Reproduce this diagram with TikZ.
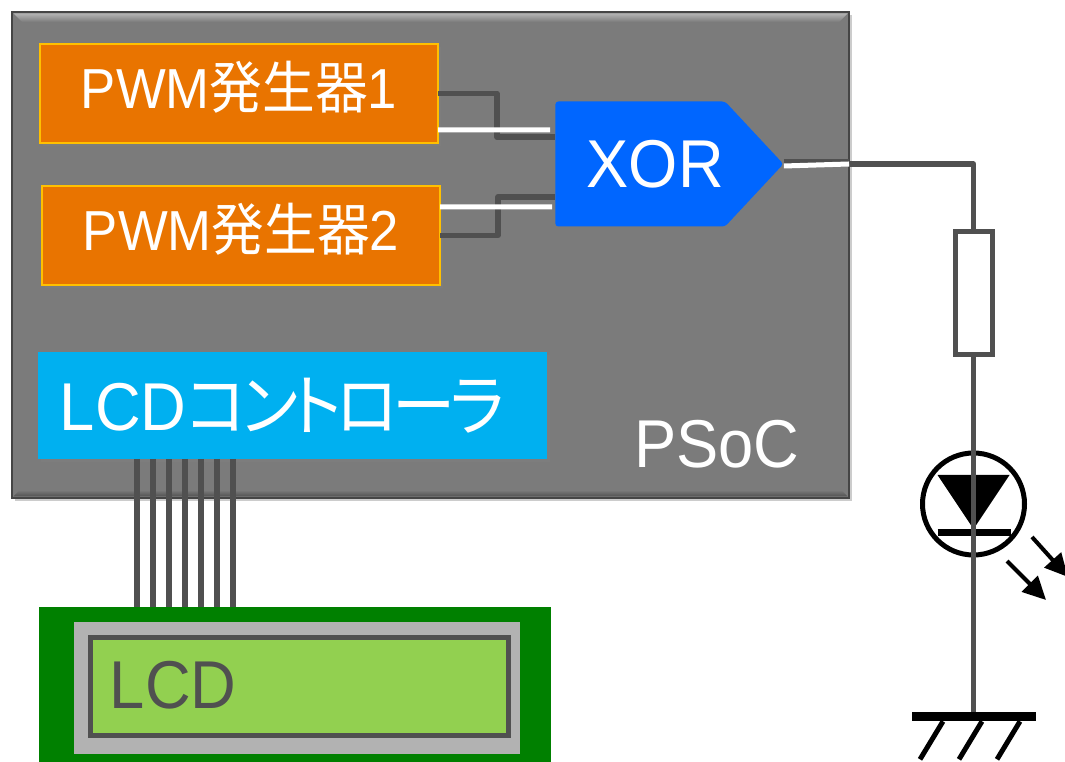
\documentclass[tikz,border=0pt]{standalone}
\usepackage{fontspec}
\usepackage{xcolor}
\usepackage{graphicx}
\setmainfont{Liberation Sans}
\newfontfamily\cjk[RawFeature=+palt]{Noto Sans CJK JP}
\usetikzlibrary{arrows.meta,calc,shadows,shapes.symbols}
\definecolor{panelgray}{HTML}{7B7B7B}
\definecolor{edge}{HTML}{454545}
\definecolor{wiregray}{HTML}{505050}
\definecolor{pwmfill}{HTML}{E97400}
\definecolor{pwmline}{HTML}{FFC000}
\definecolor{xorblue}{HTML}{0066FF}
\definecolor{ctlblue}{HTML}{00B0F0}
\definecolor{boardgreen}{HTML}{008000}
\definecolor{framegray}{HTML}{B2B2B2}
\definecolor{screengreen}{HTML}{92D050}
\newcommand{\jp}[1]{{\cjk #1}}
\newcommand{\tall}[1]{\scalebox{1}[1.07]{#1}}
\tikzset{
  softshadow/.style={drop shadow={opacity=0.4, shadow xshift=0.05cm, shadow yshift=-0.07cm}},
  wire/.style={draw=wiregray, line width=0.11cm, line join=round},
  signalwire/.style={draw=white, line width=0.1cm},
  block/.style={anchor=south west, inner sep=0pt, outer sep=0pt, text=white},
  pwmblock/.style={block, draw=pwmline, fill=pwmfill, line width=0.03cm, softshadow,
                   minimum width=7.96cm, minimum height=1.98cm, text depth=0.36cm,
                   font=\fontsize{30}{32}\selectfont},
  biglabel/.style={font=\fontsize{36}{38}\selectfont, text=white},
  symbolline/.style={draw=black, line width=0.1cm},
  lightarrow/.style={-{Triangle[length=4.6mm,width=4.4mm]}, draw=black, line width=0.08cm},
}
\begin{document}
\begin{tikzpicture}[x=1cm,y=1cm]
\useasboundingbox (0,0) rectangle (21.3,15.24);

% PSoC -------------------------------------------------------------------------
\node[block, draw=edge, fill=panelgray, line width=0.05cm, softshadow,
      minimum width=16.74cm, minimum height=9.72cm] (psoc) at (0.24,5.28) {};
% bevel along the top and bottom edge
\shade[top color=black!30, bottom color=panelgray]
  ([shift={(0.03,-0.03)}]psoc.north west) -- ([shift={(-0.03,-0.03)}]psoc.north east)
  -- ([shift={(-0.2,-0.2)}]psoc.north east) -- ([shift={(0.2,-0.2)}]psoc.north west) -- cycle;
\shade[top color=panelgray, bottom color=black!68]
  ([shift={(0.03,0.03)}]psoc.south west) -- ([shift={(-0.03,0.03)}]psoc.south east)
  -- ([shift={(-0.16,0.16)}]psoc.south east) -- ([shift={(0.16,0.16)}]psoc.south west) -- cycle;
\node[biglabel] (psoclabel) at (14.34,6.36) {\tall{PSoC}};

\node[pwmblock] (pwmone) at (0.80,12.38) {\tall{PWM\jp{発生器}1}};
\node[pwmblock] (pwmtwo) at (0.84,9.54) {\tall{PWM\jp{発生器}2}};

\node[shape=signal, signal to=east, signal pointer angle=94, anchor=west, fill=xorblue,
      rounded corners=0.06cm, inner sep=0pt, minimum width=4.56cm, minimum height=2.5cm,
      biglabel] (xor) at (11.10,11.96) {\hspace{0.6cm}\tall{XOR}};

\node[block, fill=ctlblue, softshadow, minimum height=2.14cm, text width=10.18cm,
      font=\fontsize{36}{38}\selectfont] (lcdctl) at (0.76,6.06)
  {\hspace{0.44cm}\tall{LCD\jp{\addfontfeature{LetterSpace=-8}コントローラ}}};

% PWM to XOR
\draw[wire] (pwmone.east) -- ++(1.18,0) |- ([yshift=-0.72cm]xor.west |- xor.north);
\draw[signalwire] ([yshift=-0.73cm]pwmone.east) -- ([xshift=-0.1cm,yshift=0.68cm]xor.west);
\draw[wire] (pwmtwo.east) -- ++(1.16,0) |- ([yshift=0.60cm]xor.west |- xor.south);
\draw[signalwire] ([yshift=0.57cm]pwmtwo.east) -- ([xshift=-0.06cm,yshift=-0.86cm]xor.west);

% LCD --------------------------------------------------------------------------
\node[block, fill=boardgreen, minimum width=10.24cm, minimum height=3.10cm] (board) at (0.78,0) {};
\node[block, fill=framegray, minimum width=8.92cm, minimum height=2.64cm] (frame) at (1.48,0.16) {};
\node[block, draw=wiregray, fill=screengreen, line width=0.1cm, minimum width=8.36cm,
      minimum height=1.96cm, font=\fontsize{36}{38}\selectfont, text=wiregray,
      text width=8.36cm, text depth=0.1cm] (screen) at (1.80,0.52) {\hspace{0.4cm}\tall{LCD}};

\foreach \x in {2.74,3.06,3.38,3.70,4.02,4.34,4.66}
  \draw[wire, line width=0.12cm] (\x,0 |- lcdctl.south) -- (\x,0 |- board.north);

% Output circuit ---------------------------------------------------------------
\node[draw=wiregray, fill=white, line width=0.1cm, minimum width=0.74cm, minimum height=2.46cm,
      inner sep=0pt] (res) at (19.47,9.37) {};
\node[circle, symbolline, minimum size=2.04cm, inner sep=0pt] (led) at (19.47,5.16) {};
\node[fill=black, minimum width=2.48cm, minimum height=0.18cm, inner sep=0pt] (ground) at (19.47,0.91) {};

\fill[black] ($(led)+(-0.72,0.58)$) -- ($(led)+(0.72,0.58)$) -- ($(led)+(0,-0.5)$) -- cycle;
\draw[symbolline, line width=0.13cm] ($(led)+(-0.72,-0.57)$) -- ($(led)+(0.74,-0.57)$);
\draw[lightarrow] ($(led)+(1.17,-0.66)$) -- ($(led)+(1.89,-1.46)$);
\draw[lightarrow] ($(led)+(0.67,-1.14)$) -- ($(led)+(1.45,-1.92)$);

\coordinate (border) at (psoc.east |- xor.east);
\draw[wire] ([yshift=0.04cm]xor.east) -- ([yshift=0.04cm]border);
\draw[wire] (border) -| (res.north);
\draw[signalwire] ([yshift=-0.04cm]xor.east) -- (border);
\draw[wire] (res.south) -- (ground.north);

% Ground hatching
\foreach \x in {-0.61,0.17,0.93}
  \draw[symbolline] ($(ground.south)+(\x,0)$) -- ++(-0.46,-0.76);

\end{tikzpicture}
\end{document}
